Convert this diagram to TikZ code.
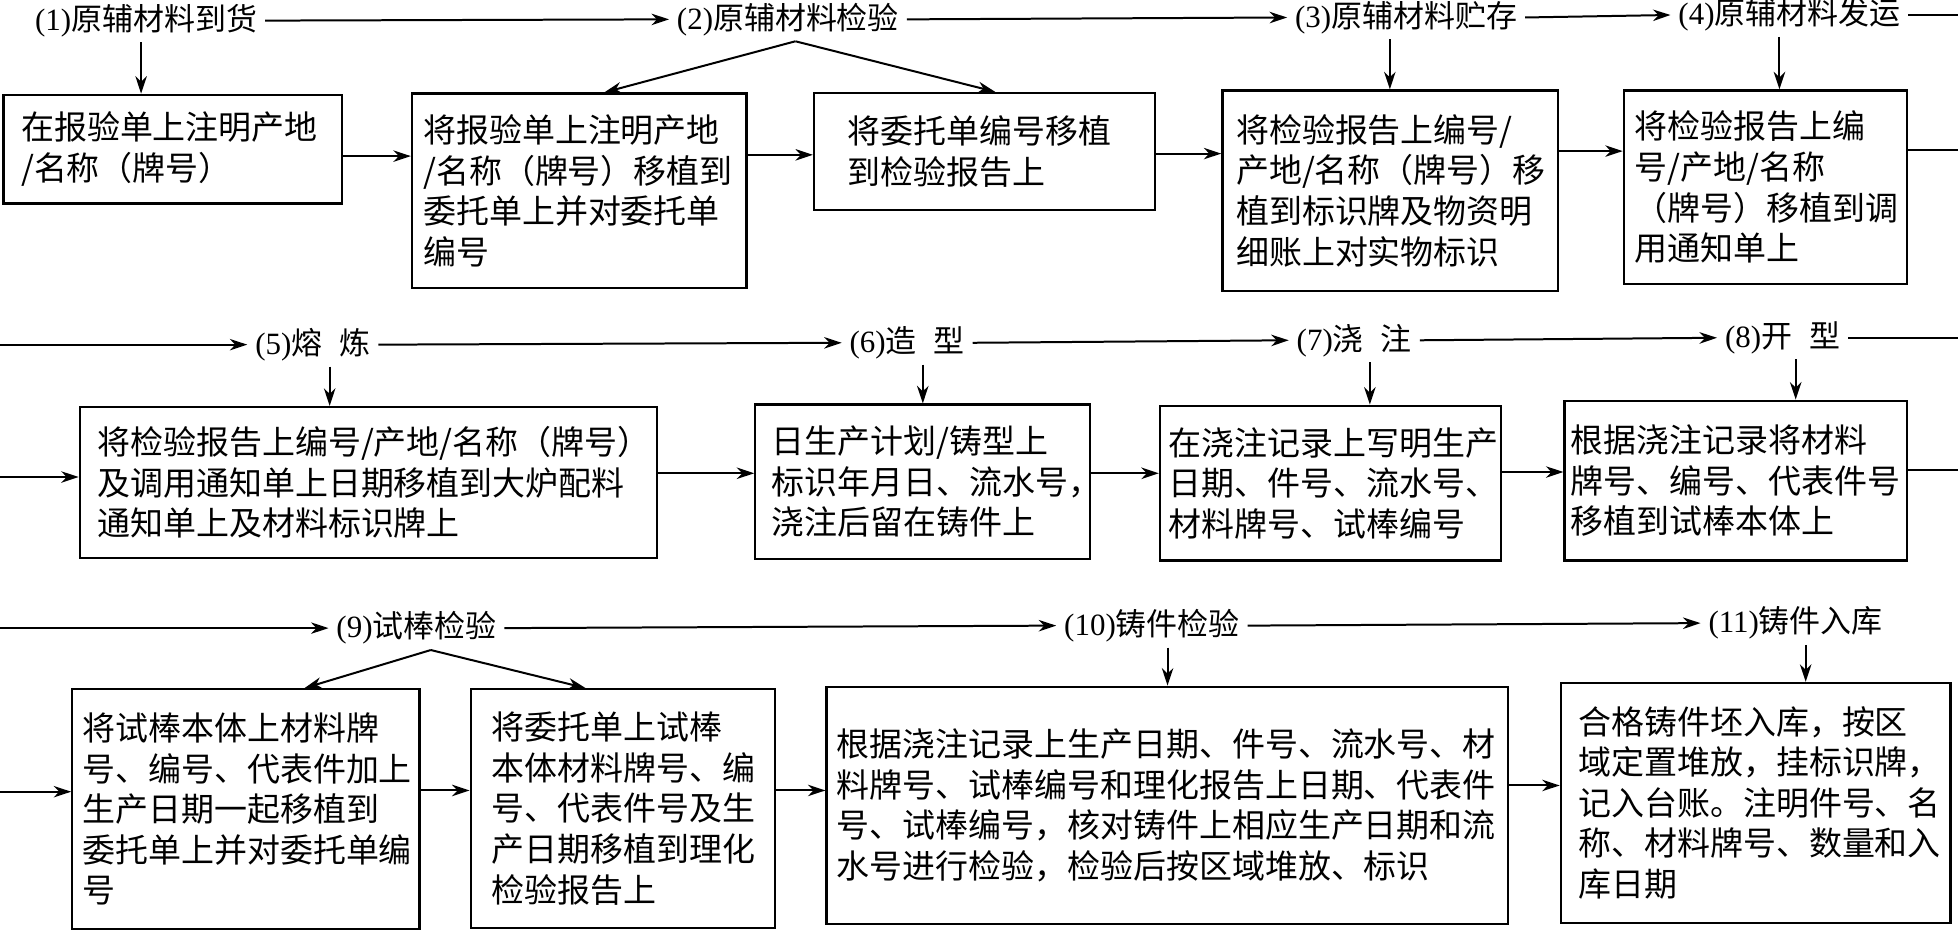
\documentclass[tikz,border=0pt]{standalone}
\usepackage{fontspec}
\setmainfont{Liberation Serif}
\newfontfamily\cjk{Noto Sans CJK SC}
\usetikzlibrary{arrows.meta}
\newcommand\mkbox[7]{%
  \pgfmathsetmacro\mkW{(#4-#2)*0.5}%
  \pgfmathsetmacro\mkH{(#5-#3)*0.5}%
  \pgfmathsetmacro\mkO{#6*0.5}%
  \pgfmathsetmacro\mkT{(#4-#2-2*#6)*0.5}%
  \node[box,anchor=north west,minimum width=\mkW pt,minimum height=\mkH pt,
        inner xsep=\mkO pt,text width=\mkT pt] (#1) at (#2,#3) {#7};}
\begin{document}
\begin{tikzpicture}[x=0.5pt,y=-0.5pt,
  arr/.style={-{Stealth[length=7pt,width=4.6pt,inset=2.2pt]},line width=0.8pt},
  plain/.style={line width=0.8pt},
  box/.style={draw,line width=0.9pt,align=left,inner ysep=0pt,
    font=\cjk\fontsize{13.2pt}{16.25pt}\selectfont},
  lbl/.style={inner xsep=3pt,inner ysep=2pt,
    font=\cjk\fontsize{12.4pt}{14pt}\selectfont}]
\fill[white] (0,0) rectangle (1568,745);
\useasboundingbox (0,0) rectangle (1568,745);
\coordinate (lt) at (0,0);
\coordinate (rt) at (1568,0);

% labels
\node[lbl] (L1) at (117,16.5) {\textrm{(1)}原辅材料到货};
\node[lbl] (L2) at (631,15.5) {\textrm{(2)}原辅材料检验};
\node[lbl] (L3) at (1126,14) {\textrm{(3)}原辅材料贮存};
\node[lbl] (L4) at (1433,12) {\textrm{(4)}原辅材料发运};
\node[lbl] (L5) at (250.5,276) {\textrm{(5)}熔\hspace{0.55em}炼};
\node[lbl] (L6) at (726.5,274.5) {\textrm{(6)}造\hspace{0.55em}型};
\node[lbl] (L7) at (1084.5,272.5) {\textrm{(7)}浇\hspace{0.55em}注};
\node[lbl] (L8) at (1427.5,270.5) {\textrm{(8)}开\hspace{0.55em}型};
\node[lbl] (L9) at (333.5,503) {\textrm{(9)}试棒检验};
\node[lbl] (L10) at (922.5,501) {\textrm{(10)}铸件检验};
\node[lbl] (L11) at (1438,499) {\textrm{(11)}铸件入库};

% boxes
\mkbox{B1}{2}{75}{273}{162}{14}{在报验单上注明产地\\/名称（牌号）}
\mkbox{B2a}{329}{74}{597}{230}{9}{将报验单上注明产地\\/名称（牌号）移植到\\委托单上并对委托单\\编号}
\mkbox{B2b}{651}{73.5}{924}{167}{27}{将委托单编号移植\\到检验报告上}
\mkbox{B3}{978}{71.5}{1247}{232}{11}{将检验报告上编号/\\产地/名称（牌号）移\\植到标识牌及物资明\\细账上对实物标识}
\mkbox{B4}{1299.5}{71.5}{1526.5}{226.5}{8.5}{将检验报告上编\\号/产地/名称\\（牌号）移植到调\\用通知单上}
\mkbox{B5}{63}{325}{525}{446}{14}{将检验报告上编号/产地/名称（牌号）\\及调用通知单上日期移植到大炉配料\\通知单上及材料标识牌上}
\mkbox{B6}{604}{323}{872}{447}{13}{日生产计划/铸型上\\标识年月日、流水号，\\浇注后留在铸件上}
\mkbox{B7}{928}{324}{1201}{448}{7}{在浇注记录上写明生产\\日期、件号、流水号、\\材料牌号、试棒编号}
\mkbox{B8}{1252}{320}{1526}{448}{5}{根据浇注记录将材料\\牌号、编号、代表件号\\移植到试棒本体上}
\mkbox{B9a}{57}{551}{335}{743}{8}{将试棒本体上材料牌\\号、编号、代表件加上\\生产日期一起移植到\\委托单上并对委托单编\\号}
\mkbox{B9b}{376}{551}{620}{742}{17}{将委托单上试棒\\本体材料牌号、编\\号、代表件号及生\\产日期移植到理化\\检验报告上}
\mkbox{B10}{661}{549}{1207}{739}{8}{根据浇注记录上生产日期、件号、流水号、材\\料牌号、试棒编号和理化报告上日期、代表件\\号、试棒编号，核对铸件上相应生产日期和流\\水号进行检验，检验后按区域堆放、标识}
\mkbox{B11}{1249}{546}{1561}{738}{14}{合格铸件坯入库，按区\\域定置堆放，挂标识牌，\\记入台账。注明件号、名\\称、材料牌号、数量和入\\库日期}

% row 1 label chain
\draw[arr] (L1.east) -- (L2.west);
\draw[arr] (L2.east) -- (L3.west);
\draw[arr] (L3.east) -- (L4.west);
\draw[plain] (L4.east) -- (rt |- L4.east);
% row 1 down arrows
\coordinate (a1) at ([xshift=-2pt]L1.south);
\draw[arr] (a1) -- (a1 |- B1.north);
\coordinate (ap2) at ([xshift=3pt]L2.south);
\draw[arr] (ap2) -- ([xshift=10pt]B2a.north);
\draw[arr] (ap2) -- ([xshift=4.25pt]B2b.north);
\coordinate (a3) at ([xshift=-6.5pt]L3.south);
\draw[arr] (a3) -- (a3 |- B3.north);
\coordinate (a4) at ([xshift=-4pt]L4.south);
\draw[arr] (a4) -- (a4 |- B4.north);
% row 1 box chain
\draw[arr] (B1.east |- 0,125) -- (B2a.west |- 0,125);
\draw[arr] (B2a.east |- 0,124) -- (B2b.west |- 0,124);
\draw[arr] (B2b.east |- 0,123) -- (B3.west |- 0,123);
\draw[arr] (B3.east |- 0,121) -- (B4.west |- 0,121);
\draw[plain] (B4.east |- 0,120) -- (rt |- 0,120);

% row 2 label chain
\draw[arr] (lt |- L5.west) -- (L5.west);
\draw[arr] (L5.east) -- (L6.west);
\draw[arr] (L6.east) -- (L7.west);
\draw[arr] (L7.east) -- (L8.west);
\draw[plain] (L8.east) -- (rt |- L8.east);
% row 2 down arrows
\coordinate (a5) at ([xshift=6.75pt]L5.south);
\draw[arr] (a5) -- (a5 |- B5.north);
\coordinate (a6) at ([xshift=6.25pt]L6.south);
\draw[arr] (a6) -- (a6 |- B6.north);
\coordinate (a7) at ([xshift=6.25pt]L7.south);
\draw[arr] (a7) -- (a7 |- B7.north);
\coordinate (a8) at ([xshift=5.25pt]L8.south);
\draw[arr] (a8) -- (a8 |- B8.north);
% row 2 box chain
\draw[arr] (lt |- 0,382) -- (B5.west |- 0,382);
\draw[arr] (B5.east |- 0,379) -- (B6.west |- 0,379);
\draw[arr] (B6.east |- 0,379) -- (B7.west |- 0,379);
\draw[arr] (B7.east |- 0,378) -- (B8.west |- 0,378);
\draw[plain] (B8.east |- 0,376) -- (rt |- 0,376);

% row 3 label chain
\draw[arr] (lt |- L9.west) -- (L9.west);
\draw[arr] (L9.east) -- (L10.west);
\draw[arr] (L10.east) -- (L11.west);
% row 3 down arrows
\coordinate (ap9) at ([xshift=5.75pt]L9.south);
\draw[arr] (ap9) -- ([xshift=23.5pt]B9a.north);
\draw[arr] (ap9) -- ([xshift=-15pt]B9b.north);
\coordinate (a10) at ([xshift=6.25pt]L10.south);
\draw[arr] (a10) -- (a10 |- B10.north);
\coordinate (a11) at ([xshift=4pt]L11.south);
\draw[arr] (a11) -- (a11 |- B11.north);
% row 3 box chain
\draw[arr] (lt |- 0,634) -- (B9a.west |- 0,634);
\draw[arr] (B9a.east |- 0,633) -- (B9b.west |- 0,633);
\draw[arr] (B9b.east |- 0,633) -- (B10.west |- 0,633);
\draw[arr] (B10.east |- 0,629) -- (B11.west |- 0,629);
\end{tikzpicture}
\end{document}
